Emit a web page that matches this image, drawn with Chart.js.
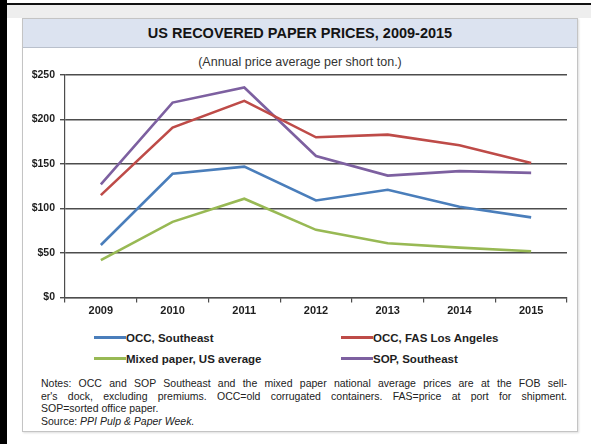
<!DOCTYPE html>
<html>
<head>
<meta charset="utf-8">
<script src="https://cdn.jsdelivr.net/npm/chart.js@4"></script>
<style>
  body { margin:0; width:591px; height:444px; background:#fff; position:relative; overflow:hidden;
         font-family:"Liberation Sans", Arial, sans-serif; color:#1e1e1e; }
  #leftbar { position:absolute; left:0; top:0; width:7px; height:444px; background:#000; }
  #topline { position:absolute; left:7px; top:3px; width:584px; height:2px; background:#111; }
  #strip { position:absolute; left:7px; top:5px; width:584px; height:13px; background:#eeeeee; }
  #panel { position:absolute; left:22px; top:18px; width:554px; height:412px;
           border:1.5px solid #c4c4c4; background:#fff; box-shadow:1px 1px 2px #ddd; }
  #band { position:absolute; left:0; top:0; width:554px; height:28px; background:#dce3f0;
          border-bottom:1px solid #b9c0cc; }
  #title { position:absolute; left:0; width:554px; top:6px; text-align:center;
           font-weight:bold; font-size:14.5px; color:#141414; }
  #subtitle { position:absolute; left:0; width:554px; top:36px; text-align:center; font-size:12.5px; color:#333; }
  #wrap { position:absolute; left:0; top:42px; width:556px; height:265px; }
  .leg { position:absolute; font-weight:bold; font-size:11.5px; height:14px; line-height:14px; white-space:nowrap; }
  .leg span.ln { display:inline-block; width:32px; height:3px; vertical-align:middle; margin-top:-2px; }
  #notes { position:absolute; left:18px; width:526px; top:358px; font-size:10.5px; line-height:12.6px; color:#222; }
  #notes .j { text-align:justify; text-align-last:justify; white-space:nowrap; }
</style>
</head>
<body>
<div id="leftbar"></div>
<div id="strip"></div>
<div id="topline"></div>
<div id="panel">
  <div id="band"><div id="title">US RECOVERED PAPER PRICES, 2009-2015</div></div>
  <div id="subtitle">(Annual price average per short ton.)</div>
  <div id="wrap"><canvas id="myChart" width="556" height="265"></canvas></div>
  <div id="legend"></div>
  <div id="notes">
    <div class="j" style="white-space:normal">Notes: OCC and SOP Southeast and the mixed paper national average prices are at the FOB sell-</div>
    <div class="j" style="white-space:normal">er's dock, excluding premiums. OCC=old corrugated containers. FAS=price at port for shipment.</div>
    <div>SOP=sorted office paper.</div>
    <div>Source: <i>PPI Pulp &amp; Paper Week.</i></div>
  </div>
</div>
<script>
const years = ['2009', '2010', '2011', '2012', '2013', '2014', '2015'];
const occSoutheast = [59, 139, 147, 109, 121, 102, 90];
const occLosAngeles = [115, 191, 221, 180, 183, 171, 151];
const mixedPaper = [42, 85, 111, 76, 61, 56, 52];
const sopSoutheast = [127, 219, 236, 159, 137, 142, 140];
const yTicks = [0, 50, 100, 150, 200, 250];

const seriesNames = ['OCC, Southeast', 'OCC, FAS Los Angeles', 'Mixed paper, US average', 'SOP, Southeast'];
const seriesData = [occSoutheast, occLosAngeles, mixedPaper, sopSoutheast];
const seriesColors = ['#4a7ebb', '#be4b48', '#98b954', '#7d60a0'];

document.addEventListener('DOMContentLoaded', function(){
    const ctx = document.getElementById('myChart').getContext('2d');
    const gridCol = '#4d4d4d';

    new Chart(ctx, {
        type: 'line',
        data: {
            labels: years,
            datasets: seriesNames.map((n, i) => ({
                label: n,
                data: seriesData[i],
                borderColor: seriesColors[i],
                backgroundColor: seriesColors[i],
                borderWidth: 2.6,
                pointRadius: 0,
                tension: 0
            }))
        },
        options: {
            responsive: false,
            animation: false,
            layout: { padding: { top: 14, right: 12, left: 0, bottom: 0 } },
            plugins: { legend: { display: false }, tooltip: { enabled: false } },
            scales: {
                x: {
                    offset: true,
                    grid: { display: true, drawOnChartArea: false, drawTicks: true, tickLength: 5, color: gridCol, lineWidth: 1.2, offset: true },
                    border: { color: gridCol, width: 1.2 },
                    ticks: { color: '#1e1e1e', padding: 2, font: { family: 'Liberation Sans', size: 11, weight: 'bold' } },
                    afterFit: (s) => { s.height = 28.5; }
                },
                y: {
                    min: 0, max: 250,
                    afterBuildTicks: (s) => { s.ticks = yTicks.map(v => ({ value: v })); },
                    grid: { color: gridCol, lineWidth: 1.4, tickLength: 5 },
                    border: { color: gridCol, width: 1.2 },
                    ticks: { color: '#1e1e1e', padding: 5, font: { family: 'Liberation Sans', size: 10.5, weight: 'bold' },
                             callback: (v) => '$' + v },
                    afterFit: (s) => { s.width = 42; }
                }
            }
        }
    });

    // two-column legend under the axis
    const leg = document.getElementById('legend');
    const pos = [[71, 312], [318, 312], [71, 333], [318, 333]];
    seriesNames.forEach((name, k) => {
        const d = document.createElement('div');
        d.className = 'leg';
        d.style.left = pos[k][0] + 'px';
        d.style.top = pos[k][1] + 'px';
        d.innerHTML = '<span class="ln" style="background:' + seriesColors[k] + '"></span>' + name;
        leg.appendChild(d);
    });
}, false);
</script>
</body>
</html>
